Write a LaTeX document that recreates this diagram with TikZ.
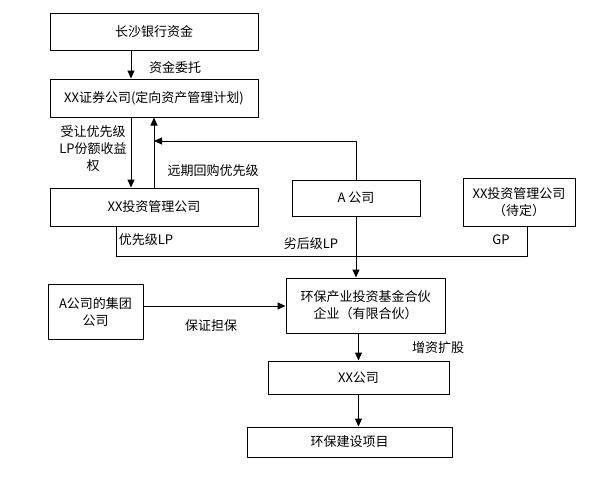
\documentclass[tikz,border=0pt]{standalone}
\usepackage{fontspec}
\setmainfont{Noto Sans CJK SC}
\usetikzlibrary{arrows.meta}

\begin{document}
\begin{tikzpicture}[
						x=1pt, y=-1pt,
						every node/.style={font=\fontsize{13}{17}\selectfont},
						box/.style={draw, line width=1pt, align=center, inner sep=2pt},
						flow/.style={line width=1pt, -{Triangle[length=8pt, width=7pt]}},
						link/.style={line width=1pt},
						line cap=round,
						line join=round
						]
						
						% Frame
						\useasboundingbox (0,0) rectangle (604,477);
						
						% Boxes
						\node[box, minimum width=208, minimum height=37] (bank) at (154,31.5) {长沙银行资金};
						\node[box, minimum width=208, minimum height=38] (sec) at (154,98) {XX证券公司(定向资产管理计划)};
						\node[box, minimum width=208, minimum height=38] (inv) at (154,207) {XX投资管理公司};
						\node[box, minimum width=128, minimum height=36] (acom) at (356,198) {A 公司};
						\node[box, minimum width=112, minimum height=48] (gp) at (519,202) {XX投资管理公司\\（待定）};
						\node[box, minimum width=159, minimum height=55] (fund) at (365.5,305.5) {环保产业投资基金合伙\\企业（有限合伙）};
						\node[box, minimum width=95, minimum height=55] (group) at (95.5,311.5) {A公司的集团\\公司};
						\node[box, minimum width=181, minimum height=33] (xx) at (358.5,377.5) {XX公司};
						\node[box, minimum width=205, minimum height=30] (proj) at (349.5,442) {环保建设项目};
						
						% Upper flows
						\draw[flow] ([xshift=-23pt]bank.south) -- ([xshift=-23pt]sec.north);
						\draw[flow] ([xshift=-23pt]sec.south) -- ([xshift=-23pt]inv.north);
						\draw[flow] (inv.north) -- (sec.south);
						\coordinate (buyback) at (154,141);
						\draw[flow] (acom.north) |- (buyback);
						
						% LP / GP bus
						\coordinate (bus) at (0,256);
						\draw[link] ([xshift=-38pt]inv.south) |- ([xshift=8pt]gp.south |- bus) -- ([xshift=8pt]gp.south);
						\draw[flow] (acom.south) -- (acom.south |- fund.north);
						
						% Lower flows
						\draw[flow] ([yshift=5.5pt]group.east) -- ([yshift=5.5pt]group.east -| fund.west);
						\draw[flow] (xx.north |- fund.south) -- (xx.north);
						\draw[flow] (xx.south) -- (xx.south |- proj.north);
						
						% Labels
						\node (entrust) at (175,68) {资金委托};
						\node[align=center] (transfer) at (93,149) {受让优先级\\LP份额收益\\权};
						\node (repo) at (213,171) {远期回购优先级};
						\node (senior) at (146,240) {优先级LP};
						\node (junior) at (311,244) {劣后级LP};
						\node (gplabel) at (501,240) {GP};
						\node (guarantee) at (211,326) {保证担保};
						\node (capital) at (438,348) {增资扩股};
						
					\end{tikzpicture}
\end{document}
